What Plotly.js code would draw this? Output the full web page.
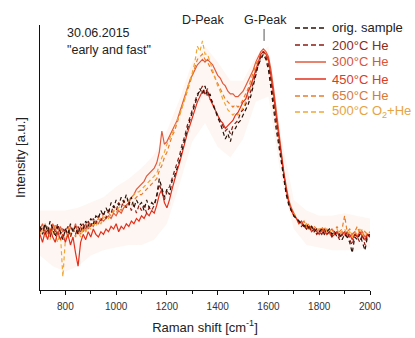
<!DOCTYPE html>
<html>
<head>
<meta charset="utf-8">
<script src="https://cdn.plot.ly/plotly-3.0.1.min.js"></script>
<style>html,body{margin:0;padding:0;background:#fff;}#chart{width:415px;height:338px;}</style>
</head>
<body>
<div id="chart"></div>
<script>
// Raman shift axis (cm^-1)
const ramanShift = [700,710,720,730,740,750,760,770,780,790,
800,810,820,830,840,850,860,870,880,890,
900,910,920,930,940,950,960,970,980,990,
1000,1010,1020,1030,1040,1050,1060,1070,1080,1090,
1100,1110,1120,1130,1140,1150,1160,1170,1180,1190,
1200,1210,1220,1230,1240,1250,1260,1270,1280,1290,
1300,1310,1320,1330,1340,1350,1360,1370,1380,1390,
1400,1410,1420,1430,1440,1450,1460,1470,1480,1490,
1500,1510,1520,1530,1540,1550,1560,1570,1580,1590,
1600,1610,1620,1630,1640,1650,1660,1670,1680,1690,
1700,1710,1720,1730,1740,1750,1760,1770,1780,1790,
1800,1810,1820,1830,1840,1850,1860,1870,1880,1890,
1900,1910,1920,1930,1940,1950,1960,1970,1980,1990,2000];

const origSample = [24,21,25,22,26,23,20,24,22,19,
23,21,25,22,24,21,25,23,26,24,
27,25,28,27,30,28,31,29,33,31,
34,32,35,33,36,32,35,31,34,32,
33,30,34,31,33,32,36,42,38,35,
38,36,41,43,46,49,53,57,60,64,
67,70,73,76,74,77,73,74,70,68,
65,63,60,57,59,56,60,61,63,64,
66,68,70,73,77,81,85,87,89,87,
83,76,68,61,55,48,42,36,32,30,
28,27,26,25,24,25,23,24,22,23,
22,23,21,22,23,21,22,20,21,19,
21,20,18,14,20,19,21,18,15,20,21];

const he200 = [22,24,21,23,20,24,22,25,21,23,
22,24,20,23,21,24,22,25,23,26,
24,27,25,28,26,29,27,30,29,32,
30,33,31,34,31,33,30,32,29,32,
30,32,29,31,30,32,35,40,37,34,
37,39,42,45,48,51,55,58,62,65,
68,71,74,75,77,74,76,72,71,68,
66,64,62,60,61,59,62,63,64,67,
68,70,72,75,78,82,85,88,90,88,
85,79,71,64,57,50,43,37,33,30,
28,27,26,24,25,23,24,22,23,21,
22,21,23,21,22,20,22,21,19,21,
20,22,19,17,21,20,18,21,17,21,20];

const he300 = [23,25,22,24,21,25,23,21,24,22,
23,20,24,22,25,21,24,22,25,23,
25,24,26,25,27,26,27,28,27,29,
28,30,29,31,32,33,35,36,38,39,
40,41,43,44,45,46,48,52,60,55,
56,58,60,62,64,67,70,73,76,79,
81,83,85,86,87,86,87,86,85,83,
81,80,78,77,75,74,74,73,73,74,
75,77,79,81,83,86,88,90,91,90,
88,83,76,68,60,52,45,39,34,31,
29,27,26,25,24,25,23,24,23,22,
23,22,23,21,22,23,21,22,21,22,
21,22,20,21,22,20,21,22,20,21,21];

const he450 = [21,18,22,19,23,20,18,22,19,21,
18,21,17,20,14,9,18,21,19,22,
20,23,21,20,22,21,23,22,24,23,
25,22,24,23,25,24,26,25,27,26,
28,27,29,28,30,29,32,36,38,33,
31,34,38,42,45,48,52,55,59,62,
65,68,71,73,75,74,75,72,70,68,
66,64,63,61,62,63,64,66,67,69,
71,72,75,77,80,83,86,89,90,89,
87,81,74,66,58,51,44,38,33,30,
28,27,25,26,24,23,24,22,23,22,
21,23,22,21,22,20,21,22,20,21,
22,20,21,19,21,20,22,20,19,21,20];

const he650 = [24,22,25,21,24,22,25,21,23,20,
22,24,21,23,20,23,21,24,22,25,
24,26,25,27,26,28,27,29,28,30,
29,31,30,32,31,33,32,34,35,36,
36,37,38,39,40,41,42,45,47,50,
52,55,58,60,63,66,69,72,75,78,
81,84,87,88,89,87,86,84,82,80,
78,76,74,72,71,70,69,70,69,70,
72,74,76,79,82,85,87,89,90,89,
86,80,73,65,57,50,43,37,33,30,
29,27,26,25,26,24,25,23,24,23,
22,24,22,23,21,23,22,24,22,23,
28,22,23,21,22,24,21,23,22,21,22];

const o2he500 = [21,23,20,22,19,23,21,18,22,5,
19,22,20,23,21,22,20,23,22,24,
23,25,24,26,25,27,28,27,29,30,
30,31,32,33,34,34,35,36,37,37,
38,39,40,41,42,43,44,47,50,52,
55,57,59,61,64,66,69,72,76,79,
82,86,92,90,94,89,89,86,83,80,
77,75,72,70,68,67,66,67,66,67,
69,71,74,77,80,83,86,88,90,88,
85,79,72,64,57,50,43,37,33,30,
28,27,25,26,24,25,23,24,22,23,
23,22,24,22,23,21,22,23,21,22,
23,21,22,20,22,21,23,21,22,20,21];

// spread envelope (faint shading around the spectra)
const bandShift = [700,750,800,850,900,950,1000,1050,1100,1150,1200,1250,1300,1350,1400,1450,1500,1550,1600,1650,1700,1750,1800,1850,1900,1950,2000];
const bandUpper = [30,30,30,31,33,35,39,42,46,51,60,72,86,92,86,79,79,88,92,58,34,30,28,28,29,28,27];
const bandLower = [13,9,7,9,13,15,16,17,17,19,25,40,56,63,54,50,57,71,73,42,23,17,16,15,15,15,16];

const seriesNames = ['orig. sample','200°C He','300°C He','450°C He','650°C He','500°C O<sub>2</sub>+He'];
const xTickVals = [800,1000,1200,1400,1600,1800,2000];

const FONT = 'Arial, "Liberation Sans", sans-serif';
const DASH = '4px,3px';
const LEG_DASH = '5px,3px';

// style per series (legend order)
const lineColors = ['#2a1208','#8c1c14','#e15a3c','#e2301c','#ea7c2a','#f0a636'];
const textColors = ['#222222','#8e2a20','#d9553c','#d83c2a','#d8793a','#e6a444'];
const dashes = [DASH, DASH, 'solid', 'solid', DASH, DASH];
const seriesY = [origSample, he200, he300, he450, he650, o2he500];
const drawOrder = [2, 4, 5, 3, 1, 0];

const traces = [
  {x: bandShift, y: bandLower, mode:'lines', line:{width:0, color:'rgba(0,0,0,0)'}, showlegend:false, hoverinfo:'skip'},
  {x: bandShift, y: bandUpper, mode:'lines', line:{width:0, color:'rgba(0,0,0,0)'}, fill:'tonexty', fillcolor:'rgba(242,150,110,0.09)', showlegend:false, hoverinfo:'skip'}
];
drawOrder.forEach(i => {
  traces.push({x: ramanShift, y: seriesY[i], mode:'lines', name: seriesNames[i], showlegend:false,
    line:{color: lineColors[i], width:1.2, dash: dashes[i]}});
});

// legend drawn in paper space: rows top to bottom
const legRowY = [0.9887, 0.9245, 0.8604, 0.7962, 0.7321, 0.6717];
const legShapes = [], legAnn = [];
seriesNames.forEach((n, i) => {
  legShapes.push({type:'line', xref:'paper', yref:'paper', x0:0.7727, x1:0.8667, y0:legRowY[i], y1:legRowY[i],
    line:{color: lineColors[i], width:1.3, dash: dashes[i] === 'solid' ? 'solid' : LEG_DASH}});
  legAnn.push({xref:'paper', yref:'paper', x:0.8788, y:legRowY[i], xanchor:'left', yanchor:'middle',
    text: n, showarrow:false, font:{family:FONT, size:13, color: textColors[i]}});
});

const layout = {
  width: 415, height: 338,
  margin: {l:40, r:45, t:25, b:48, autoexpand:false},
  paper_bgcolor:'#fff', plot_bgcolor:'#fff',
  font: {family: FONT, color:'#222', size:13},
  showlegend: false,
  xaxis: {
    range:[700,2000], showline:true, linecolor:'#111', linewidth:1.3, mirror:false,
    ticks:'outside', ticklen:4, tickwidth:1, tickcolor:'#111', ticklabelstandoff:3,
    tickvals: xTickVals, showgrid:false, zeroline:false,
    tickfont:{family:FONT, size:10, color:'#333'},
    minor:{dtick:100, tick0:700, ticks:'outside', ticklen:3, tickcolor:'#111', showgrid:false},
    title:{text:'Raman shift [cm<sup>-1</sup>]', font:{family:FONT, size:13, color:'#222'}, standoff:11}
  },
  yaxis: {
    range:[0,100], showline:true, linecolor:'#111', linewidth:1.3,
    ticks:'', showticklabels:false, showgrid:false, zeroline:false,
    title:{text:'Intensity [a.u.]', font:{family:FONT, size:13, color:'#222'}, standoff:10}
  },
  annotations: [
    {xref:'paper', yref:'paper', x:0.076, y:0.970, xanchor:'left', yanchor:'middle', text:'30.06.2015', showarrow:false, font:{family:FONT, size:12.5, color:'#222'}},
    {xref:'paper', yref:'paper', x:0.076, y:0.906, xanchor:'left', yanchor:'middle', text:'"early and fast"', showarrow:false, font:{family:FONT, size:12.5, color:'#222'}},
    {xref:'paper', yref:'paper', x:0.494, y:1.019, xanchor:'center', yanchor:'middle', text:'D-Peak', showarrow:false, font:{family:FONT, size:12.5, color:'#222'}},
    {xref:'paper', yref:'paper', x:0.682, y:1.019, xanchor:'center', yanchor:'middle', text:'G-Peak', showarrow:false, font:{family:FONT, size:12.5, color:'#222'}}
  ].concat(legAnn),
  shapes: [
    {type:'line', xref:'paper', yref:'paper', x0:0.679, x1:0.679, y0:0.985, y1:0.94, line:{color:'#555', width:1}}
  ].concat(legShapes)
};

Plotly.newPlot('chart', traces, layout, {displayModeBar:false, staticPlot:true});
</script>
</body>
</html>
